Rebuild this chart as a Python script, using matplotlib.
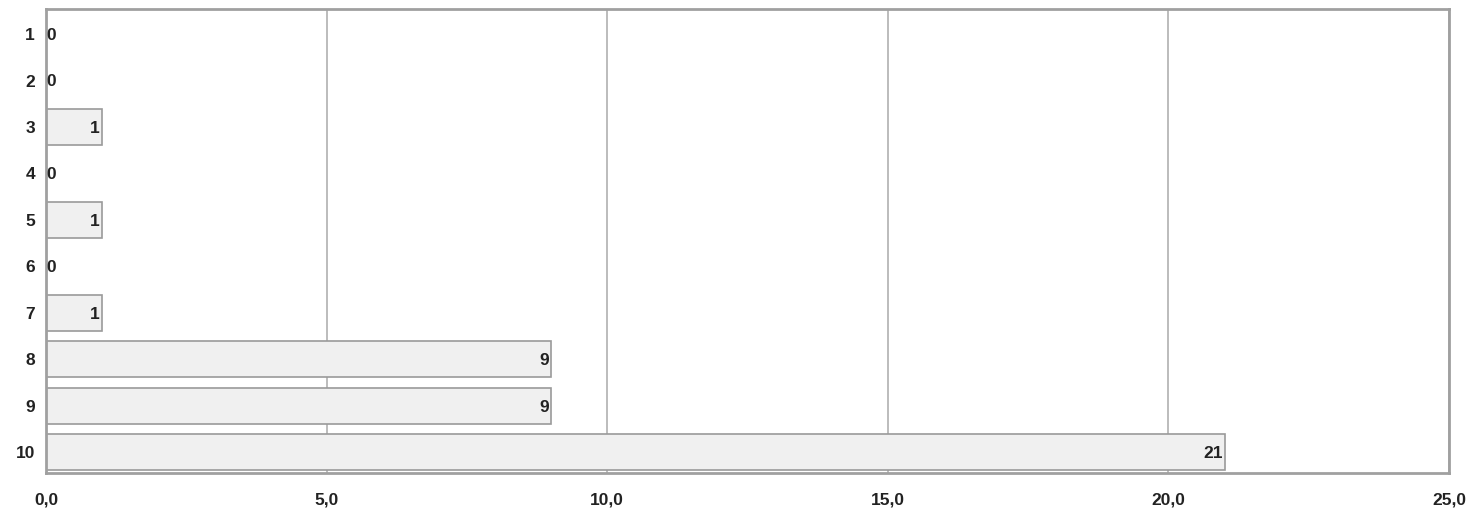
#!/usr/bin/env python3

import matplotlib.pyplot as plt
from matplotlib.ticker import FuncFormatter

# Data
categories = ["1", "2", "3", "4", "5", "6", "7", "8", "9", "10"]
counts = [0, 0, 1, 0, 1, 0, 1, 9, 9, 21]
x_ticks = [0, 5, 10, 15, 20, 25]


def main():
    plt.rcParams['font.family'] = ['Liberation Sans', 'DejaVu Sans']

    fig = plt.figure(figsize=(14.75, 5.12), dpi=100)
    ax = fig.add_axes([0.0312, 0.0762, 0.9512, 0.9062])

    pos = list(range(len(categories)))
    ax.barh(pos, counts, height=0.78, color='#f0f0f0', edgecolor='#9a9a9a',
            linewidth=1.2, zorder=2)

    # value labels, right aligned at bar end (clipped by the axes)
    for p, v in zip(pos, counts):
        ax.annotate(str(v), xy=(max(v, 0.22), p), xytext=(-1.5, -1),
                    textcoords='offset points', ha='right', va='center',
                    fontsize=12.5, fontweight='bold', color='#222222',
                    annotation_clip=False, clip_on=True, zorder=3)

    ax.set_xlim(0, 25)
    ax.set_ylim(len(categories) - 0.55, -0.54)
    ax.set_yticks(pos)
    ax.set_yticklabels(categories)
    ax.set_xticks(x_ticks)
    ax.xaxis.set_major_formatter(FuncFormatter(lambda x, _: f"{x:.1f}".replace('.', ',')))

    ax.tick_params(axis='both', length=0, labelsize=12.5, colors='#222222')
    ax.tick_params(axis='x', pad=14)
    ax.tick_params(axis='y', pad=8)
    for lbl in ax.get_xticklabels() + ax.get_yticklabels():
        lbl.set_fontweight('bold')

    ax.grid(True, axis='x', color='#b0b0b0', linewidth=1.2, zorder=0)
    ax.set_axisbelow(True)
    for s in ax.spines.values():
        s.set_color('#a0a0a0')
        s.set_linewidth(2)

    plt.savefig("out.png", dpi=100)


if __name__ == "__main__":
    main()
